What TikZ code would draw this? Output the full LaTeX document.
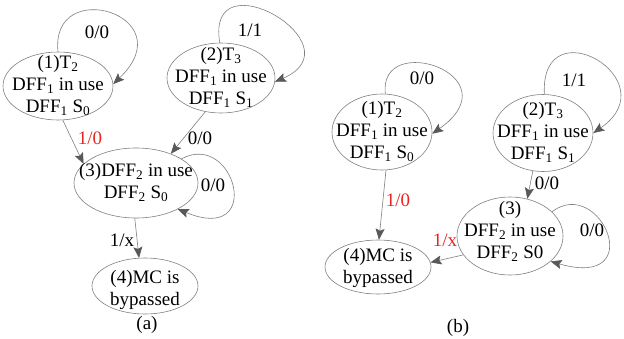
\documentclass[tikz,border=0pt]{standalone}
\usepackage{fontspec}
\setmainfont{Liberation Serif}
\usetikzlibrary{shapes.geometric,arrows.meta}
\definecolor{edgegray}{HTML}{7F7F7F}
\definecolor{tipgray}{HTML}{595959}
\definecolor{lblred}{HTML}{E8251F}
\newcommand{\sbs}[1]{\textsubscript{#1}}
% text block of fixed (zero) size, so that the ellipse keeps its given size
\newcommand{\ctext}[2][-4.5pt]{\makebox[0pt][c]{\raisebox{#1}[0pt][0pt]{\begin{tabular}{@{}c@{}}#2\end{tabular}}}}
\begin{document}
\begin{tikzpicture}[x=1pt,y=-1pt,
  txt/.style={font=\fontsize{19}{22}\selectfont},
  st/.style={txt,ellipse,draw=edgegray,line width=0.6pt,inner sep=0pt},
  tr/.style={draw=edgegray,line width=0.6pt,-{Stealth[length=11pt,width=9pt,inset=2pt,color=tipgray,fill=tipgray]}},
  lbl/.style={txt,inner sep=0pt},
  rlbl/.style={lbl,text=lblred}
]
\useasboundingbox (0,0) rectangle (624,338);
% ---------- panel (a)
\node[st,minimum width=110pt,minimum height=68pt] (n1a) at (58,86) {\ctext{(1)T\sbs{2}\\DFF\sbs{1} in use\\DFF\sbs{1} S\sbs{0}}};
\node[st,minimum width=108pt,minimum height=70pt] (n2a) at (221,78) {\ctext{(2)T\sbs{3}\\DFF\sbs{1} in use\\DFF\sbs{1} S\sbs{1}}};
\node[st,minimum width=124pt,minimum height=70pt] (n3a) at (136,183) {\ctext{(3)DFF\sbs{2} in use\\DFF\sbs{2} S\sbs{0}}};
\node[st,minimum width=106pt,minimum height=56pt] (n4a) at (145,286) {\ctext[-8pt]{(4)MC is\\bypassed}};
\node[lbl] (capa) at (147,325) {(a)};
\draw[tr] (n1a.90) .. controls (50,-25) and (185,15) .. (n1a.2);
\draw[tr] (n2a.92) .. controls (205,-45) and (360,45) .. (n2a.-4);
\draw[tr] (n3a.28) .. controls (235,130) and (265,245) .. (n3a.-32);
\draw[tr] (n1a.-82) -- (n3a.160);
\draw[tr] (n2a.-115) -- (n3a.40);
\draw[tr] (n3a.-92) -- (n4a.102);
\node[lbl] (la1) at (97,32) {0/0};
\node[lbl] (la2) at (250,30) {1/1};
\node[rlbl] (la3) at (90,138) {1/0};
\node[lbl] (la4) at (200,138) {0/0};
\node[lbl] (la5) at (213,185) {0/0};
\node[lbl] (la6) at (122,240) {1/x};
% ---------- panel (b)
\node[st,minimum width=100pt,minimum height=76pt] (n1b) at (382,132) {\ctext{(1)T\sbs{2}\\DFF\sbs{1} in use\\DFF\sbs{1} S\sbs{0}}};
\node[st,minimum width=100pt,minimum height=77pt] (n2b) at (543,133) {\ctext{(2)T\sbs{3}\\DFF\sbs{1} in use\\DFF\sbs{1} S\sbs{1}}};
\node[st,minimum width=106pt,minimum height=78pt] (n3b) at (510,236) {\ctext[-0.5pt]{(3)\\DFF\sbs{2} in use\\DFF\sbs{2} S0}};
\node[st,minimum width=106pt,minimum height=54pt] (n4b) at (378,267) {\ctext[-5.5pt]{(4)MC is\\bypassed}};
\node[lbl] (capb) at (458,328) {(b)};
\draw[tr] (n1b.85) .. controls (378,30) and (515,75) .. (n1b.-2);
\draw[tr] (n2b.88) .. controls (540,5) and (670,80) .. (n2b.0);
\draw[tr] (n3b.30) .. controls (600,175) and (650,290) .. (n3b.-32);
\draw[tr] (n1b.-84) -- (n4b.88);
\draw[tr] (n2b.-105) -- (n3b.65);
\draw[tr] (n3b.202) -- (n4b.5);
\node[lbl] (lb1) at (422,78) {0/0};
\node[lbl] (lb2) at (574,80) {1/1};
\node[lbl] (lb3) at (547,183) {0/0};
\node[lbl] (lb4) at (592,230) {0/0};
\node[rlbl] (lb5) at (398,200) {1/0};
\node[rlbl] (lb6) at (445,240) {1/x};
\end{tikzpicture}
\end{document}
